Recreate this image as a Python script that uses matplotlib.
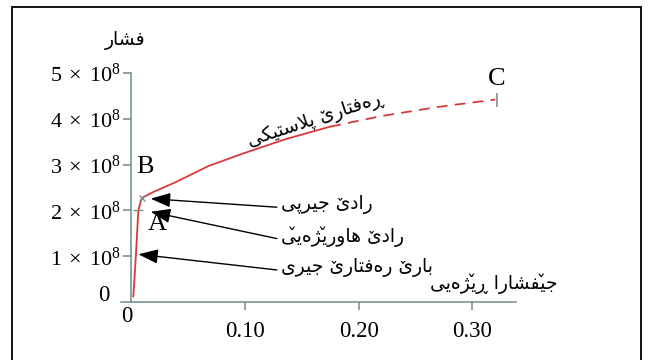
import matplotlib
matplotlib.use("Agg")
import matplotlib.pyplot as plt
from matplotlib.patches import Rectangle

plt.rcParams['mathtext.fontset'] = 'custom'
plt.rcParams['mathtext.rm'] = 'Liberation Serif'
plt.rcParams['mathtext.it'] = 'Liberation Serif:italic'

# stress-strain data
strain_solid = [0.0018, 0.004, 0.0062, 0.0092, 0.02, 0.0385, 0.068, 0.098, 0.135, 0.175]
stress_solid = [0.12e8, 1.0e8, 2.0e8, 2.27e8, 2.41e8, 2.61e8, 2.97e8, 3.24e8, 3.55e8, 3.83e8]
strain_dash = [0.175, 0.22, 0.27, 0.32]
stress_dash = [3.83e8, 4.06e8, 4.26e8, 4.42e8]

yticks = [1e8, 2e8, 3e8, 4e8, 5e8]
ylabels = [r'$1\;\times\;10^{8}$', r'$2\;\times\;10^{8}$', r'$3\;\times\;10^{8}$',
           r'$4\;\times\;10^{8}$', r'$5\;\times\;10^{8}$']
xticks = [0.10, 0.20, 0.30]
xlabels = ['0.10', '0.20', '0.30']

point_A = (0.0062, 2.0e8)
point_B = (0.0092, 2.27e8)
point_C = (0.322, 4.42e8)

y_title = 'فشار'
x_title = 'جێفشارا ڕێژەیی'
plastic_label = 'ڕەفتارێ پلاستیکی'
notes = ['رادێ جیرپی', 'رادێ هاورێژەیێ', 'بارێ رەفتارێ جیری']

# simple arabic-script shaping (matplotlib has no text shaping)
V = '\u030C'
FORMS = {
    'ا': ('\uFE8D', '\uFE8E'),
    'د': ('\uFEA9', '\uFEAA'),
    'ر': ('\uFEAD', '\uFEAE'),
    'ژ': ('\uFB8A', '\uFB8B'),
    'و': ('\uFEED', '\uFEEE'),
    'ە': ('\u06D5', '\uFEEA'),
    'ڕ': ('\u0695', '\u0695'),
    'ب': ('\uFE8F', '\uFE90', '\uFE91', '\uFE92'),
    'ت': ('\uFE95', '\uFE96', '\uFE97', '\uFE98'),
    'ج': ('\uFE9D', '\uFE9E', '\uFE9F', '\uFEA0'),
    'س': ('\uFEB1', '\uFEB2', '\uFEB3', '\uFEB4'),
    'ش': ('\uFEB5', '\uFEB6', '\uFEB7', '\uFEB8'),
    'ف': ('\uFED1', '\uFED2', '\uFED3', '\uFED4'),
    'ل': ('\uFEDD', '\uFEDE', '\uFEDF', '\uFEE0'),
    'ه': ('\uFEE9', '\uFEEA', '\uFEEB', '\uFEEC'),
    'پ': ('\uFB56', '\uFB57', '\uFB58', '\uFB59'),
    'ک': ('\uFB8E', '\uFB8F', '\uFB90', '\uFB91'),
    'ی': ('\uFBFC', '\uFBFD', '\uFBFE', '\uFBFF'),
    'ێ': ('\u06CE', '\uFBFD' + V, '\uFBFE' + V, '\uFBFF' + V),
}


def shape(s):
    out = []
    i = 0
    while i < len(s):
        c = s[i]
        if c not in FORMS:
            out.append(c)
            i += 1
            continue
        prev = s[i - 1] if i > 0 else ''
        join_prev = prev in FORMS and len(FORMS[prev]) == 4
        if c == 'ل' and i + 1 < len(s) and s[i + 1] == 'ا':
            out.append('\uFEFC' if join_prev else '\uFEFB')
            i += 2
            continue
        nxt = s[i + 1] if i + 1 < len(s) else ''
        f = FORMS[c]
        join_next = len(f) == 4 and nxt in FORMS
        if join_prev and join_next:
            g = f[3]
        elif join_prev:
            g = f[1]
        elif join_next:
            g = f[2]
        else:
            g = f[0]
        out.append(g)
        i += 1
    return ''.join(reversed(out))


ar_font = ['DejaVu Sans']
ar_size = 13.5
serif = 'Liberation Serif'
axis_col = '#6e8c8c'
red = '#d83a3a'

fig = plt.figure(figsize=(6.51, 3.6), dpi=100)
fig.patches.append(Rectangle((0.0184, -0.1), 0.9662, 1.0806, transform=fig.transFigure,
                             fill=False, edgecolor='black', linewidth=1.3))

ax = fig.add_axes([0.1851, 0.1611, 0.6069, 0.6361])
ax.set_xlim(-0.0095, 0.338)
ax.set_ylim(0, 5e8)
ax.patch.set_alpha(0)

for s in ['top', 'right']:
    ax.spines[s].set_visible(False)
ax.spines['left'].set_position(('data', 0))
ax.spines['left'].set_color(axis_col)
ax.spines['bottom'].set_color(axis_col)
ax.spines['left'].set_linewidth(1.1)
ax.spines['bottom'].set_linewidth(1.1)

ax.set_yticks(yticks)
ax.set_yticklabels(ylabels)
ax.set_xticks(xticks)
ax.set_xticklabels(xlabels)
ax.tick_params(axis='y', direction='out', length=6, width=1.1, color=axis_col,
               labelsize=16, pad=2)
ax.tick_params(axis='x', direction='out', length=6, width=1.1, color=axis_col,
               labelsize=16.5, pad=8)
for t in ax.get_xticklabels() + ax.get_yticklabels():
    t.set_fontfamily(serif)

# origin labels
ax.text(-0.019, 0.15e8, '0', fontsize=16.5, family=serif, ha='right', va='center')
ax.text(-0.004, -0.32e8, '0', fontsize=16.5, family=serif, ha='center', va='center')

ax.plot(strain_solid, stress_solid, color=red, lw=1.3, clip_on=False)
ax.plot(strain_dash, stress_dash, color=red, lw=1.3, dashes=[6, 4], clip_on=False)

ax.plot(*point_A, marker='_', ms=7, color='#7a9090', mew=1)
ax.plot(*point_B, marker='x', ms=5, color='#7a9090', mew=1)
ax.plot(*point_C, marker='|', ms=10, color='#7a9090', mew=1.2, clip_on=False)

ax.text(0.0121, 2.955e8, 'B', fontsize=19, family=serif, ha='center', va='center')
ax.text(0.0226, 1.71e8, 'A', fontsize=19, family=serif, ha='center', va='center')
ax.text(0.3216, 4.88e8, 'C', fontsize=19, family=serif, ha='center', va='center', clip_on=False)

ax.text(-0.0055, 5.72e8, shape(y_title), fontsize=ar_size, family=ar_font, ha='center', va='center')
ax.text(0.319, 0.407e8, shape(x_title), fontsize=ar_size, family=ar_font, ha='center', va='center')
ax.text(0.162, 3.98e8, shape(plastic_label), fontsize=ar_size, family=ar_font, ha='center',
        va='center', rotation=18, rotation_mode='anchor')

note_y = [2.12e8, 1.435e8, 0.75e8]
tips = [(0.0171, 2.255e8), (0.0171, 1.97e8), (0.0062, 1.043e8)]
for txt, ny, tip in zip(notes, note_y, tips):
    ax.text(0.1317, ny, shape(txt), fontsize=ar_size, family=ar_font, ha='left', va='center')
    ax.annotate('', xy=tip, xytext=(0.128, ny - 0.05e8),
                arrowprops=dict(arrowstyle='-|>,head_length=0.6,head_width=0.22',
                                mutation_scale=20, color='black', lw=1,
                                shrinkA=0, shrinkB=0))

fig.savefig('out.png', dpi=100)
